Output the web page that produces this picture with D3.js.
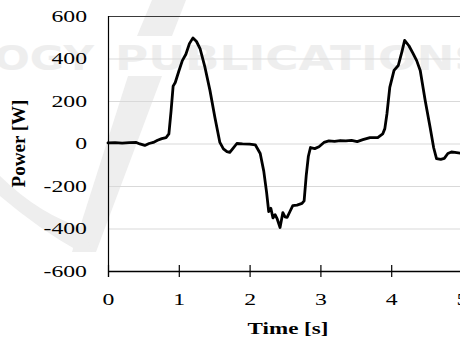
<!DOCTYPE html>
<html>
<head>
<meta charset="utf-8">
<script src="https://cdn.jsdelivr.net/npm/d3@7"></script>
<style>
  body { margin: 0; background: #fff; }
  svg { display: block; }
</style>
</head>
<body>
<div id="chart"></div>
<script>
// time [s] and power [W]
const times = [0, 0.1, 0.2, 0.3, 0.4, 0.45, 0.52, 0.58, 0.64, 0.7, 0.76, 0.82, 0.86, 0.89, 0.92, 0.95,
  1.0, 1.05, 1.1, 1.15, 1.2, 1.25, 1.3, 1.37, 1.44, 1.51, 1.58, 1.63, 1.68, 1.72, 1.76, 1.82, 1.9,
  2.0, 2.08, 2.15, 2.2, 2.24, 2.27, 2.3, 2.33, 2.36, 2.39, 2.43, 2.47, 2.5, 2.53, 2.57, 2.61, 2.67,
  2.74, 2.77, 2.8, 2.83, 2.86, 2.92, 2.98, 3.05, 3.12, 3.2, 3.28, 3.36, 3.44, 3.52, 3.6, 3.7, 3.81,
  3.88, 3.91, 3.94, 3.98, 4.04, 4.1, 4.15, 4.19, 4.25, 4.31, 4.36, 4.41, 4.48, 4.55, 4.6, 4.64, 4.7,
  4.75, 4.8, 4.85, 4.9, 5.0];
const power = [3, 4, 2, 4, 5, -2, -9, 0, 5, 15, 23, 28, 45, 150, 270, 287,
  340, 390, 420, 470, 497, 480, 447, 358, 250, 122, 5, -25, -38, -42, -25, 0, -2,
  -3, -6, -47, -130, -230, -320, -305, -350, -335, -355, -395, -325, -345, -348, -320, -292, -290,
  -282, -270, -150, -60, -19, -24, -15, 5, 12, 10, 14, 12, 15, 9, 18, 28, 28,
  45, 70, 140, 264, 344, 367, 430, 485, 460, 423, 390, 344, 202, 75, -20, -71, -75,
  -70, -47, -40, -42, -47];
const xTicks = [0, 1, 2, 3, 4, 5];
const yTicks = [-600, -400, -200, 0, 200, 400, 600];

const width = 460, height = 337;
const margin = { top: 16, right: -2, bottom: 66, left: 108 };
const serif = "'Liberation Serif', 'Times New Roman', serif";
const sx = 1.44; // the source figure is stretched sideways

const svg = d3.select('#chart').append('svg')
  .attr('width', width)
  .attr('height', height);

// faint publisher watermark behind the chart
const wm = svg.append('g').attr('fill', '#eeeeee');
wm.append('path').attr('d', 'M152,0 L186,0 L172,36 L137,36 Z');
wm.append('path').attr('d', 'M128,76 L162,76 L96,252 L72,252 Z');
wm.append('path').attr('d', 'M0,196 Q40,230 80,252 L92,252 L84,228 Q40,215 0,176 Z');
wm.append('text')
  .attr('x', -6).attr('y', 70)
  .style('font-family', 'DejaVu Sans, sans-serif')
  .style('font-weight', 'bold')
  .style('font-size', '34px')
  .attr('textLength', 100)
  .attr('lengthAdjust', 'spacingAndGlyphs')
  .text('OGY');
wm.append('text')
  .attr('x', 115).attr('y', 70)
  .style('font-family', 'DejaVu Sans, sans-serif')
  .style('font-weight', 'bold')
  .style('font-size', '34px')
  .attr('textLength', 372)
  .attr('lengthAdjust', 'spacingAndGlyphs')
  .text('PUBLICATIONS');

const x = d3.scaleLinear()
  .domain([0, 5])
  .range([margin.left, width - margin.right]);

const y = d3.scaleLinear()
  .domain([-600, 600])
  .range([height - margin.bottom, margin.top]);

const fmt = d => String(d); // plain hyphen minus, no decimals

// horizontal gridlines
svg.append('g')
  .selectAll('line')
  .data(yTicks.filter(d => d > -600))
  .join('line')
  .attr('x1', margin.left).attr('x2', width)
  .attr('y1', d => y(d) + 0.5).attr('y2', d => y(d) + 0.5)
  .attr('stroke', d => d === 600 ? '#3a3a3a' : '#d9d9d9')
  .attr('stroke-width', 1);

// y axis: line and labels only
const yAxis = svg.append('g')
  .attr('transform', `translate(${margin.left},0)`)
  .call(d3.axisLeft(y).tickValues(yTicks).tickFormat(fmt).tickSize(0).tickPadding(21));
yAxis.select('.domain').remove();
yAxis.selectAll('.tick text')
  .attr('x', -21 / sx)
  .attr('transform', `scale(${sx},1)`)
  .style('font-family', serif)
  .style('font-size', '16.5px')
  .style('fill', '#000');
svg.append('line')
  .attr('x1', margin.left + 0.5).attr('x2', margin.left + 0.5)
  .attr('y1', y(600)).attr('y2', y(-600) + 6)
  .attr('stroke', '#000').attr('stroke-width', 1.2);

// x axis with ticks crossing the line
const xAxis = svg.append('g')
  .attr('transform', `translate(0,${y(-600)})`)
  .call(d3.axisBottom(x).tickValues(xTicks).tickFormat(fmt).tickSize(6).tickPadding(16).tickSizeOuter(0));
xAxis.select('.domain').attr('stroke', '#000').attr('stroke-width', 1.4);
xAxis.selectAll('.tick line').attr('y1', -6).attr('y2', 6).attr('stroke', '#000').attr('stroke-width', 1.2);
xAxis.selectAll('.tick text')
  .attr('transform', `scale(${sx},1)`)
  .style('font-family', serif)
  .style('font-size', '16.5px')
  .style('fill', '#000');

// power curve
const data = times.map((t, i) => ({ t: t, p: power[i] }));
const line = d3.line()
  .x(d => x(d.t))
  .y(d => y(d.p));
svg.append('path')
  .datum(data)
  .attr('d', line)
  .attr('fill', 'none')
  .attr('stroke', '#000')
  .attr('stroke-width', 2.8)
  .attr('stroke-linejoin', 'round')
  .attr('stroke-linecap', 'round');

// axis titles
svg.append('text')
  .attr('transform', `translate(288,334) scale(${sx},1)`)
  .attr('text-anchor', 'middle')
  .style('font-family', serif)
  .style('font-weight', 'bold')
  .style('font-size', '16px')
  .text('Time [s]');
svg.append('text')
  .attr('transform', `translate(25,${y(0)}) rotate(-90)`)
  .attr('text-anchor', 'middle')
  .style('font-family', serif)
  .style('font-weight', 'bold')
  .style('font-size', '19px')
  .text('Power [W]');
</script>
</body>
</html>
